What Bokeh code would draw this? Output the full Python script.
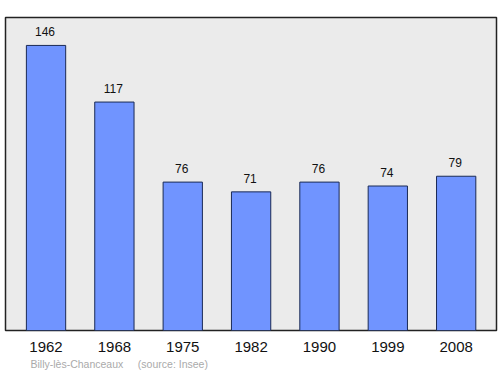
from bokeh.plotting import figure
from bokeh.models import ColumnDataSource, FixedTicker, Range1d, Title
from bokeh.core.properties import value
from bokeh.embed import file_html
from bokeh.resources import INLINE

years = ["1962", "1968", "1975", "1982", "1990", "1999", "2008"]
population = [146, 117, 76, 71, 76, 74, 79]
source_note = "Billy-lès-Chanceaux\u00a0\u00a0\u00a0\u00a0\u00a0(source: Insee)"

xs = list(range(len(years)))
src = ColumnDataSource(dict(x=xs, top=population, lab=[str(v) for v in population]))

p = figure(width=500, height=374, output_backend="svg", toolbar_location=None,
           x_range=Range1d(-0.593, 6.59), y_range=Range1d(0, 160.3),
           min_border_left=5, min_border_right=4, min_border_top=17, min_border_bottom=44)
p.background_fill_color = "#ebebeb"
p.border_fill_color = "white"
p.outline_line_color = "#222222"
p.outline_line_width = 1.5
p.grid.visible = False
p.yaxis.visible = False

p.vbar(x="x", top="top", width=0.575, bottom=0, source=src,
       fill_color="#7094ff", line_color="#1a2a55", line_width=1)
p.text(x="x", y="top", text="lab", source=src, text_align="center", text_baseline="bottom",
       y_offset=-9, x_offset=-1, text_font=value("Liberation Sans"), text_font_size="12px",
       text_color="#111111")

ax = p.xaxis[0]
ax.ticker = FixedTicker(ticks=xs)
ax.major_label_overrides = {i: y for i, y in enumerate(years)}
ax.major_tick_line_color = None
ax.minor_tick_line_color = None
ax.major_tick_out = 0
ax.major_tick_in = 0
ax.axis_line_color = None
ax.major_label_standoff = 11
ax.major_label_text_font = "Liberation Sans"
ax.major_label_text_font_size = "15px"
ax.major_label_text_color = "#111111"

note = Title(text=source_note, align="left", offset=25, text_font="Liberation Sans",
             text_font_size="10.5px", text_font_style="normal", text_color="#aaaaaa",
             standoff=3)
p.add_layout(note, "below")

open("out.html", "w").write(file_html(p, INLINE))
